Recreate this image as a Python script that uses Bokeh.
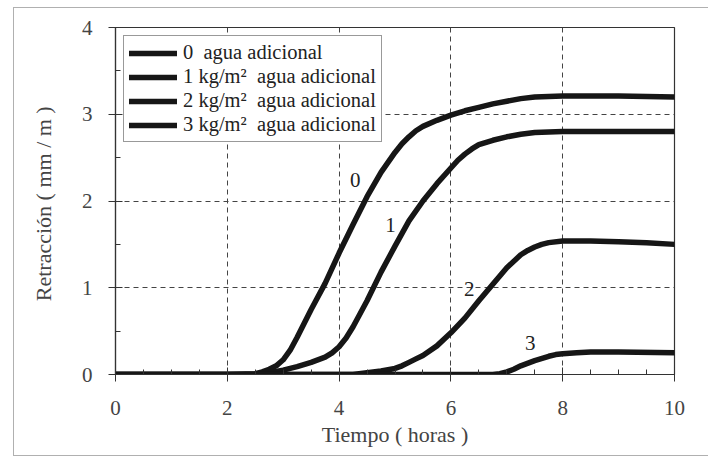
from bokeh.plotting import figure
from bokeh.models import (SingleIntervalTicker, Legend, LegendItem, InlineStyleSheet,
                          ColumnDataSource, Range1d)
from bokeh.core.properties import value
from bokeh.embed import file_html
from bokeh.resources import INLINE

# ---- data ----
t0 = [0, 2.0, 2.5, 2.625, 2.75, 2.875, 3.0, 3.125, 3.25, 3.5, 3.75, 4.0, 4.25, 4.5, 4.75, 5.0, 5.125,
      5.25, 5.375, 5.5, 5.75, 6.0, 6.25, 6.5, 6.75, 7.0, 7.25, 7.5, 8.0, 9.0, 10.0]
v0 = [0, 0, 0.01, 0.03, 0.06, 0.10, 0.17, 0.28, 0.43, 0.75, 1.05, 1.40, 1.73, 2.05, 2.33, 2.56, 2.66,
      2.74, 2.81, 2.86, 2.93, 2.99, 3.04, 3.08, 3.12, 3.15, 3.18, 3.20, 3.21, 3.21, 3.20]

t1 = [0, 2.5, 2.75, 3.0, 3.25, 3.5, 3.75, 3.875, 4.0, 4.125, 4.25, 4.375, 4.5, 4.75, 5.0, 5.25, 5.5,
      5.75, 6.0, 6.125, 6.25, 6.375, 6.5, 6.75, 7.0, 7.25, 7.5, 8.0, 10.0]
v1 = [0, 0, 0.02, 0.05, 0.09, 0.14, 0.20, 0.25, 0.32, 0.42, 0.55, 0.70, 0.85, 1.18, 1.48, 1.77, 2.00,
      2.20, 2.38, 2.47, 2.54, 2.60, 2.65, 2.70, 2.74, 2.77, 2.79, 2.80, 2.80]

t2 = [0, 4.25, 4.5, 4.75, 5.0, 5.125, 5.25, 5.375, 5.5, 5.75, 6.0, 6.25, 6.5, 6.75, 7.0, 7.25, 7.375,
      7.5, 7.625, 7.75, 8.0, 8.5, 9.0, 9.5, 10.0]
v2 = [0, 0, 0.02, 0.04, 0.07, 0.10, 0.14, 0.18, 0.22, 0.33, 0.48, 0.65, 0.85, 1.04, 1.23, 1.38, 1.43,
      1.47, 1.50, 1.52, 1.54, 1.54, 1.53, 1.52, 1.50]

t3 = [0, 6.75, 6.875, 7.0, 7.125, 7.25, 7.5, 7.75, 7.875, 8.0, 8.25, 8.5, 9.0, 10.0]
v3 = [0, 0.0, 0.01, 0.03, 0.06, 0.10, 0.16, 0.21, 0.23, 0.24, 0.25, 0.26, 0.26, 0.25]

series_names = ["0  agua adicional", "1 kg/m\u00b2  agua adicional",
                "2 kg/m\u00b2  agua adicional", "3 kg/m\u00b2  agua adicional"]

curve_label_text = ["0", "1", "2", "3"]
curve_label_x = [4.29, 4.92, 6.33, 7.42]
curve_label_y = [2.24, 1.72, 0.99, 0.36]

x_title = "Tiempo ( horas )"
y_title = "Retracci\u00f3n  ( mm / m )"

FONT = "Liberation Serif"
TXT = "#444444"
LINE = "#161616"

p = figure(width=708, height=459, output_backend="svg", toolbar_location=None,
           x_range=Range1d(0, 10), y_range=Range1d(0, 4),
           min_border_left=115, min_border_right=34, min_border_top=27, min_border_bottom=85)
p.background_fill_color = "white"
p.border_fill_color = "white"
p.outline_line_color = "#333333"
p.outline_line_width = 1.2

for ax, ticker in ((p.xaxis, SingleIntervalTicker(interval=2, num_minor_ticks=4)),
                   (p.yaxis, SingleIntervalTicker(interval=1, num_minor_ticks=2))):
    ax.ticker = ticker
    ax.axis_line_color = "#333333"
    ax.axis_line_width = 1.2
    ax.major_tick_line_color = "#333333"
    ax.minor_tick_line_color = "#333333"
    ax.major_tick_in = 7
    ax.major_tick_out = 7
    ax.minor_tick_in = 5
    ax.minor_tick_out = 0
    ax.major_label_text_font = FONT
    ax.major_label_text_font_size = "21px"
    ax.major_label_text_color = TXT
    ax.axis_label_text_font = FONT
    ax.axis_label_text_font_size = "22px"
    ax.axis_label_text_font_style = "normal"
    ax.axis_label_text_color = TXT

p.xaxis.axis_label = x_title
p.yaxis.axis_label = y_title
p.xaxis.major_label_standoff = 19
p.xaxis.axis_label_standoff = 4
p.yaxis.major_label_standoff = 16
p.yaxis.axis_label_standoff = 23

for g in (p.xgrid, p.ygrid):
    g.grid_line_color = "#444444"
    g.grid_line_dash = "5 4"
    g.grid_line_width = 1
p.xgrid.ticker = SingleIntervalTicker(interval=2)
p.ygrid.ticker = SingleIntervalTicker(interval=1)

renderers = []
for tx, vy in ((t0, v0), (t1, v1), (t2, v2), (t3, v3)):
    r = p.line(tx, vy, line_color=LINE, line_width=5.5, line_join="round", line_cap="round")
    renderers.append(r)

src = ColumnDataSource(dict(x=curve_label_x, y=curve_label_y, t=curve_label_text))
p.text(x="x", y="y", text="t", source=src, text_font=value(FONT), text_font_size="21px",
       text_color="#222222", text_align="center", text_baseline="middle")

legend = Legend(items=[LegendItem(label=n, renderers=[r]) for n, r in zip(series_names, renderers)],
                location="top_left", margin=8, padding=5, spacing=1,
                glyph_width=48, glyph_height=22, label_height=22, label_standoff=6,
                label_text_font=FONT, label_text_font_size="20.5px", label_text_color="#222222",
                border_line_color="#333333", border_line_width=1.5,
                background_fill_color="white", background_fill_alpha=1.0)
p.add_layout(legend)

p.stylesheets = [InlineStyleSheet(css=":host { position: relative; } "
                                  ":host::after { content: ''; position: absolute; left: 13px; top: 7px; "
                                  "width: 720px; height: 449px; border: 1.5px solid #b0b0b0; "
                                  "pointer-events: none; box-sizing: border-box; }")]

open("out.html", "w").write(file_html(p, INLINE))
